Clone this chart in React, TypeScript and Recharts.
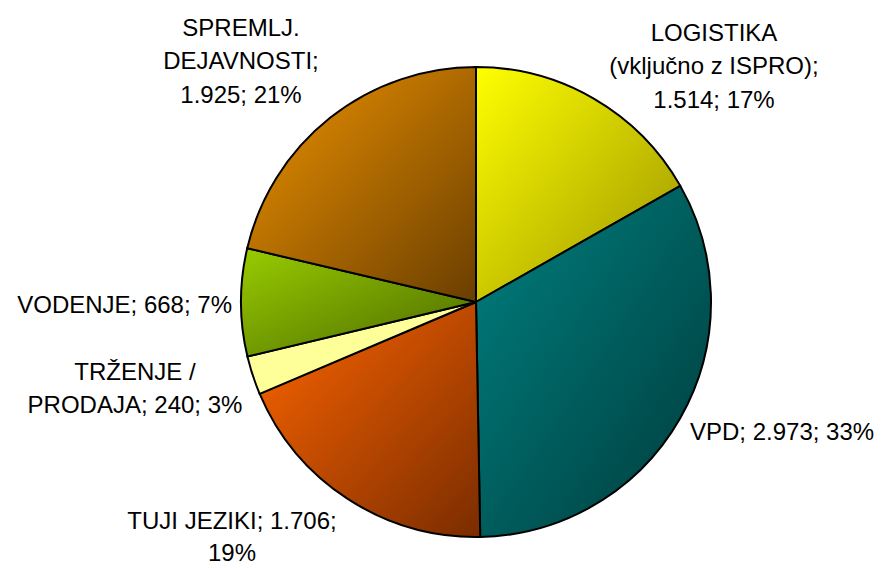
import { PieChart, Pie, Cell } from "recharts";

const categories = [
  "LOGISTIKA (vključno z ISPRO)",
  "VPD",
  "TUJI JEZIKI",
  "TRŽENJE / PRODAJA",
  "VODENJE",
  "SPREMLJ. DEJAVNOSTI",
];
const values = [1514, 2973, 1706, 240, 668, 1925];

// label text, {v} = value, {p} = percent
const labelTemplates = [
  ["LOGISTIKA", "(vključno z ISPRO);", "{v}; {p}"],
  ["VPD; {v}; {p}"],
  ["TUJI JEZIKI; {v};", "{p}"],
  ["TRŽENJE /", "PRODAJA; {v}; {p}"],
  ["VODENJE; {v}; {p}"],
  ["SPREMLJ.", "DEJAVNOSTI;", "{v}; {p}"],
];

// gradient stops: light (top-left) -> dark (bottom-right)
const colorsFrom = ["#ffff00", "#008080", "#ff6600", "#ffff99", "#99cc00", "#f09400"];
const colorsTo = ["#9a9300", "#003b3b", "#7a2c00", "#ffff99", "#4a6800", "#6a3e00"];

// label placement relative to pie centre
const labelLayout = [
  { dx: 238, dy: -270, anchor: "middle", lh: 33.5 },
  { dx: 214, dy: 129, anchor: "start", lh: 33.5 },
  { dx: -244, dy: 218, anchor: "middle", lh: 32 },
  { dx: -341, dy: 69, anchor: "middle", lh: 33.5 },
  { dx: -244, dy: 2, anchor: "end", lh: 33.5 },
  { dx: -235, dy: -275, anchor: "middle", lh: 33.5 },
];

const total = values.reduce((a, b) => a + b, 0);
const fmt = (n: number) => String(n).replace(/\B(?=(\d{3})+(?!\d))/g, ".");

const data = categories.map((name, i) => ({
  name,
  value: values[i],
  lines: labelTemplates[i].map((t) =>
    t.replace("{v}", fmt(values[i])).replace("{p}", `${Math.round((values[i] / total) * 100)}%`)
  ),
}));

const renderLabel = (props: any) => {
  const { cx, cy, index } = props;
  const lay = labelLayout[index];
  const lines: string[] = data[index].lines;
  return (
    <text
      x={cx + lay.dx}
      y={cy + lay.dy}
      textAnchor={lay.anchor}
      fontFamily="'Liberation Sans', Arial, sans-serif"
      fontSize={24}
      fill="#000"
    >
      {lines.map((l, k) => (
        <tspan key={k} x={cx + lay.dx} y={cy + lay.dy + k * lay.lh} dy="0.36em">
          {l}
        </tspan>
      ))}
    </text>
  );
};

export default function App() {
  return (
    <div style={{ position: "absolute", left: 0, top: 0, width: 891, height: 568, background: "#fff" }}>
      <svg width={0} height={0} style={{ position: "absolute" }}>
        <defs>
          {colorsFrom.map((c, i) => (
            <linearGradient key={i} id={`grad${i}`} x1="0" y1="0" x2="1" y2="1">
              <stop offset="0%" stopColor={c} />
              <stop offset="100%" stopColor={colorsTo[i]} />
            </linearGradient>
          ))}
        </defs>
      </svg>
      <PieChart width={891} height={568} margin={{ top: 0, right: 0, bottom: 0, left: 0 }}>
        <Pie
          data={data}
          dataKey="value"
          nameKey="name"
          cx={476}
          cy={302}
          outerRadius={235}
          startAngle={90}
          endAngle={-270}
          stroke="#000"
          strokeWidth={2}
          label={renderLabel}
          labelLine={false}
          isAnimationActive={false}
        >
          {data.map((_, i) => (
            <Cell key={i} fill={`url(#grad${i})`} />
          ))}
        </Pie>
      </PieChart>
    </div>
  );
}
